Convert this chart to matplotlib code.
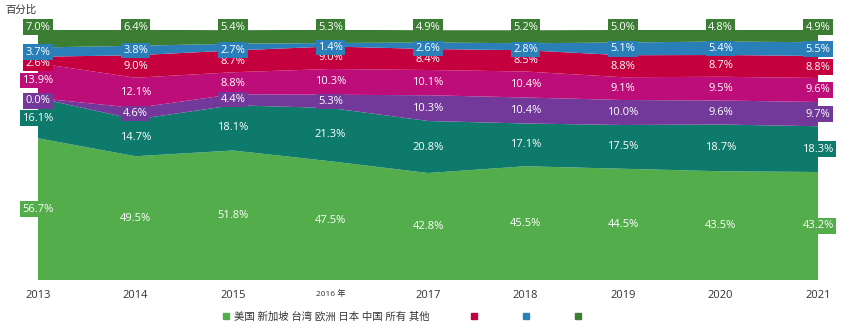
import numpy as np
import matplotlib.pyplot as plt

plt.rcParams['font.family'] = ['Open Sans', 'Noto Sans CJK SC', 'DejaVu Sans']

years = [2013, 2014, 2015, 2016, 2017, 2018, 2019, 2020, 2021]
year_labels = ["2013", "2014", "2015", "2016 年", "2017", "2018", "2019", "2020", "2021"]

# bottom to top
us = [56.7, 49.5, 51.8, 47.5, 42.8, 45.5, 44.5, 43.5, 43.2]
teal = [16.1, 14.7, 18.1, 21.3, 20.8, 17.1, 17.5, 18.7, 18.3]
purple = [0.0, 4.6, 4.4, 5.3, 10.3, 10.4, 10.0, 9.6, 9.7]
magenta = [13.9, 12.1, 8.8, 10.3, 10.1, 10.4, 9.1, 9.5, 9.6]
crimson = [2.6, 9.0, 8.7, 9.0, 8.4, 8.5, 8.8, 8.7, 8.8]
blue = [3.7, 3.8, 2.7, 1.4, 2.6, 2.8, 5.1, 5.4, 5.5]
darkgreen = [7.0, 6.4, 5.4, 5.3, 4.9, 5.2, 5.0, 4.8, 4.9]

series = [us, teal, purple, magenta, crimson, blue, darkgreen]
colors = ["#53ad4b", "#0d7a6b", "#72399a", "#bd0d78", "#c4003e", "#2a7fb9", "#3b7d32"]
legend_text = "美国 新加坡 台湾 欧洲 日本 中国 所有 其他"

fig = plt.figure(figsize=(8.49, 3.27), dpi=100)
ax = fig.add_axes([38 / 849, 1 - 280 / 327, 780 / 849, 250 / 327])

x = np.arange(len(years))
ax.stackplot(x, *series, colors=colors, linewidth=0)

base = np.zeros(len(years))
for k, (vals, c) in enumerate(zip(series, colors)):
    vals = np.array(vals)
    mid = base + vals / 2
    for i in range(len(x)):
        y = mid[i]
        if k == len(series) - 1:
            y = 101.2
        elif vals[i] < 3:
            y = mid[i] - 1.2  # thin bands: nudge so boxes don't collide
        ax.text(x[i], y, f"{vals[i]:.1f}%", color="white", fontsize=8,
                ha="center", va="center", clip_on=False,
                bbox=dict(boxstyle="square,pad=0.2", fc=c, ec="none"))
    base = base + vals

ax.set_xlim(0, len(years) - 1)
ax.set_ylim(0, 100)
ax.set_yticks([])
ax.set_xticks(x)
ax.set_xticklabels(year_labels, fontsize=8, color="#333333")
ax.get_xticklabels()[3].set_fontsize(6)
ax.tick_params(axis="x", length=0, pad=7)
for s in ax.spines.values():
    s.set_visible(False)

fig.text(5 / 849, 1 - 10 / 327, "百分比", fontsize=7.5, color="#333333", va="center")

# legend
handles = [plt.Line2D([], [], marker="s", linestyle="none", color=c, markersize=5) for c in
           [colors[0], colors[4], colors[5], colors[6]]]
leg = fig.legend(handles, [legend_text, "", "", ""], loc="center", ncol=4,
                 bbox_to_anchor=(404 / 849, 1 - 317 / 327), frameon=False,
                 fontsize=7.5, handletextpad=0.3, columnspacing=3.9, handlelength=0.8)
for t in leg.get_texts():
    t.set_color("#333333")

fig.savefig("out.png", dpi=100)
